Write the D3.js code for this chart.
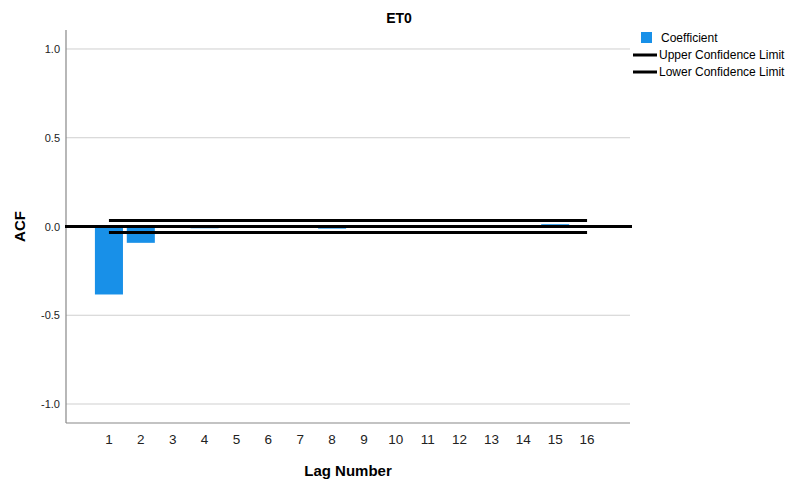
<!DOCTYPE html>
<html>
<head>
<meta charset="utf-8">
<script src="https://cdn.jsdelivr.net/npm/d3@7"></script>
<style>
  body { margin: 0; background: #fff; }
  svg { display: block; font-family: "Liberation Sans", Arial, sans-serif; }
</style>
</head>
<body>
<svg id="chart"></svg>
<script>
// data
const lags = [1, 2, 3, 4, 5, 6, 7, 8, 9, 10, 11, 12, 13, 14, 15, 16];
const coefficient = [-0.383, -0.092, 0.002, -0.01, 0.002, 0.005, 0.002, -0.012, 0.003, 0.002, 0.002, 0.002, 0.002, 0.002, 0.013, 0.002];
const upperLimit = [0.034, 0.034, 0.034, 0.034, 0.034, 0.034, 0.034, 0.034, 0.034, 0.034, 0.034, 0.034, 0.034, 0.034, 0.034, 0.034];
const lowerLimit = [-0.034, -0.034, -0.034, -0.034, -0.034, -0.034, -0.034, -0.034, -0.034, -0.034, -0.034, -0.034, -0.034, -0.034, -0.034, -0.034];
const yTicks = [-1.0, -0.5, 0.0, 0.5, 1.0];

const width = 798, height = 483;
const svg = d3.select("#chart").attr("width", width).attr("height", height);

const plot = { left: 66, right: 630, top: 30, bottom: 423 };
const barColor = "#1890e8";

// ---- scales ----
const x = d3.scaleBand()
  .domain(lags)
  .range([plot.left + 27, plot.right - 27])
  .paddingInner(0.12)
  .paddingOuter(0.06);

const y = d3.scaleLinear()
  .domain([-1.107, 1.107])
  .range([plot.bottom, plot.top]);

const cx = d => x(d) + x.bandwidth() / 2;
const fmt = d => d3.format(".1f")(d).replace("\u2212", "-");

// ---- gridlines ----
svg.append("g")
  .selectAll("line")
  .data(yTicks)
  .join("line")
  .attr("x1", plot.left).attr("x2", plot.right)
  .attr("y1", d => y(d)).attr("y2", d => y(d))
  .attr("stroke", "#cfcfcf")
  .attr("stroke-width", 1);

// ---- axes ----
const yAxis = svg.append("g")
  .attr("transform", `translate(${plot.left},0)`)
  .call(d3.axisLeft(y).tickValues(yTicks).tickFormat(fmt).tickSize(0).tickPadding(6));
yAxis.select(".domain").remove();
yAxis.selectAll("text").attr("font-size", 11).attr("fill", "#222")
  .attr("font-family", "Liberation Sans, Arial, sans-serif");

const xAxis = svg.append("g")
  .attr("transform", `translate(0,${plot.bottom})`)
  .call(d3.axisBottom(x).tickSize(0).tickPadding(11));
xAxis.select(".domain").remove();
xAxis.selectAll("text").attr("font-size", 13.5).attr("fill", "#222")
  .attr("font-family", "Liberation Sans, Arial, sans-serif");

svg.append("line")
  .attr("x1", plot.left).attr("x2", plot.left)
  .attr("y1", plot.top).attr("y2", plot.bottom)
  .attr("stroke", "#888").attr("stroke-width", 1.2);
svg.append("line")
  .attr("x1", plot.left).attr("x2", plot.right)
  .attr("y1", plot.bottom).attr("y2", plot.bottom)
  .attr("stroke", "#888").attr("stroke-width", 1.2);

// ---- bars ----
svg.append("g")
  .selectAll("rect")
  .data(lags.map((l, i) => ({ lag: l, v: coefficient[i] })))
  .join("rect")
  .attr("x", d => x(d.lag))
  .attr("width", x.bandwidth())
  .attr("y", d => y(Math.max(0, d.v)))
  .attr("height", d => Math.abs(y(d.v) - y(0)))
  .attr("fill", barColor);

// ---- zero line ----
svg.append("line")
  .attr("x1", plot.left - 1).attr("x2", plot.right + 2)
  .attr("y1", y(0)).attr("y2", y(0))
  .attr("stroke", "#000").attr("stroke-width", 3);

// ---- confidence limits ----
const limitLine = d3.line().x(d => cx(d[0])).y(d => y(d[1]));
[upperLimit, lowerLimit].forEach(arr => {
  svg.append("path")
    .attr("d", limitLine(lags.map((l, i) => [l, arr[i]])))
    .attr("fill", "none")
    .attr("stroke", "#000")
    .attr("stroke-width", 3);
});

// ---- titles ----
svg.append("text")
  .attr("x", 399).attr("y", 23)
  .attr("text-anchor", "middle")
  .attr("font-size", 14).attr("font-weight", "bold")
  .text("ET0");

svg.append("text")
  .attr("transform", `translate(25,${y(0)}) rotate(-90)`)
  .attr("text-anchor", "middle")
  .attr("font-size", 15).attr("font-weight", "bold")
  .text("ACF");

svg.append("text")
  .attr("x", 348).attr("y", 476)
  .attr("text-anchor", "middle")
  .attr("font-size", 15).attr("font-weight", "bold")
  .text("Lag Number");

// ---- legend ----
const legend = svg.append("g").attr("font-size", 12);
legend.append("rect")
  .attr("x", 641).attr("y", 32).attr("width", 11).attr("height", 11)
  .attr("fill", barColor);
legend.append("text").attr("x", 661).attr("y", 42).text("Coefficient");
[["Upper Confidence Limit", 55], ["Lower Confidence Limit", 72]].forEach(([label, ly]) => {
  legend.append("line")
    .attr("x1", 633).attr("x2", 657)
    .attr("y1", ly).attr("y2", ly)
    .attr("stroke", "#000").attr("stroke-width", 3);
  legend.append("text").attr("x", 659).attr("y", ly + 4).text(label);
});
</script>
</body>
</html>
